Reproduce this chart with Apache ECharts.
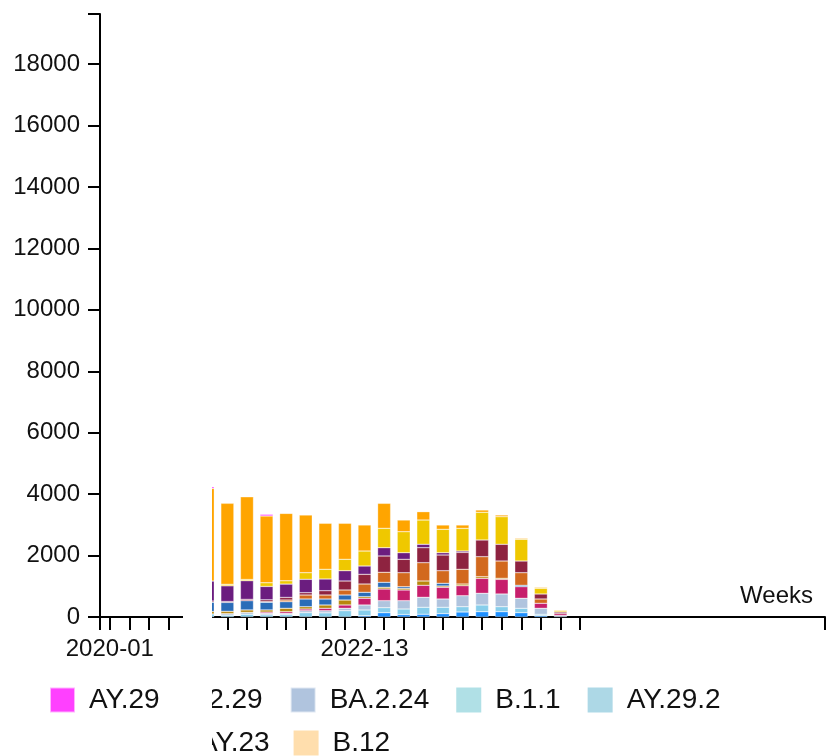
<!DOCTYPE html>
<html>
<head>
<meta charset="utf-8">
<script src="https://cdn.jsdelivr.net/npm/echarts@6/dist/echarts.min.js"></script>
<style>
  html, body { margin: 0; padding: 0; background: #fff; }
  #chart { width: 828px; height: 756px; }
</style>
</head>
<body>
<div id="chart"></div>
<script>
const weeks = [
  "2020-01", "2022-01", "2022-02", "2022-03", "2022-04", "2022-05", "2022-06", "2022-07",
  "2022-08", "2022-09", "2022-10", "2022-11", "2022-12", "2022-13", "2022-14", "2022-15",
  "2022-16", "2022-17", "2022-18", "2022-19", "2022-20", "2022-21", "2022-22", "2022-23",
  "2022-24", "2022-25", "2022-26", "2022-27", "2022-28", "2022-29", "2022-30", "2022-31",
  "2022-32", "2022-33", "2022-34", "2022-35", "2022-36"
];
const tickedWeeks = 25;
const labelWeeks = ["2020-01", "2022-13"];

// counts per week, bottom of the stack first
const ba5 =      [0,0,0,0,0, 0,0,0,0,0,0,0,0,42,140,80,90,110,163,173,173,140,43,0, 0];
const ba2101 =   [0,0,0,0,0, 100,60,90,70,75,140,135,205,186,163,180,226,206,172,218,162,143,45,0, 0];
const ba224 =    [0,0,0,0,0, 0,50,60,50,43,65,70,78,163,228,271,325,270,358,380,414,326,195,50, 0];
const ba229 =    [0,0,0,0,0, 0,0,0,40,55,55,78,108,218,380,348,391,381,326,486,476,378,163,60, 0];
const ba117 =    [0,0,0,0,0, 80,75,80,70,110,75,108,162,52,56,52,140,42,55,55,35,0,0,0, 0];
const ba112 =    [0,0,0,0,0, 300,290,300,250,215,251,195,163,143,163,55,0,88,0,0,0,45,0,0, 0];
const ba210 =    [0,0,0,0,0, 0,0,0,20,55,130,130,163,270,325,456,596,410,479,651,563,410,140,0, 0];
const ba23 =     [0,0,0,0,0, 40,30,45,60,85,75,140,293,316,531,436,488,511,550,544,544,381,163,50, 0];
const ba1 =      [0,0,0,0,0, 650,510,606,434,433,436,381,335,270,270,215,111,75,45,0,0,0,0,0, 0];
const ba2 =      [0,0,0,0,0, 0,50,40,120,108,215,316,371,488,631,684,790,762,737,901,898,707,185,40, 0];
const ba11 =     [0,0,0,0,0, 3016,2635,2690,2174,2194,1878,1497,1172,847,813,380,271,140,110,75,55,30,30,28, 0];
const ay29 =     [0,0,0,0,0, 55,0,0,55,0,0,0,0,0,0,0,0,0,0,0,0,0,0,0, 0];

const lineages = [
  ["BA.5", "#1e90ff", ba5],
  ["BA.2.10.1", "#87ceeb", ba2101],
  ["BA.2.24", "#b0c4de", ba224],
  ["BA.2.29", "#c71e6c", ba229],
  ["BA.1.17", "#b8860b", ba117],
  ["BA.1.1.2", "#2a6cb8", ba112],
  ["BA.2.10", "#d2691e", ba210],
  ["BA.2.3", "#8e2340", ba23],
  ["BA.1", "#6b1d7f", ba1],
  ["BA.2", "#efc800", ba2],
  ["BA.1.1", "#ffa500", ba11],
  ["AY.29", "#ff40ff", ay29]
];
// only seen in the legend
const legendOnly = [
  ["B.1.1", "#b0e0e6"],
  ["AY.29.2", "#add8e6"],
  ["AY.23", "#9acd32"],
  ["B.12", "#ffdead"]
];

const font = "Liberation Sans, Arial, Helvetica, sans-serif";
const ink = "#111";
const axisLine = { color: "#000", width: 2 };

const chart = echarts.init(document.getElementById("chart"));

const series = lineages.map(function (l) {
  return {
    name: l[0],
    type: "bar",
    stack: "total",
    barWidth: 13,
    itemStyle: { color: l[1], borderColor: "rgba(255,255,255,0.6)", borderWidth: 0.5 },
    data: l[2].map((v) => (v ? v : null)),
  };
}).concat(legendOnly.map(function (l) {
  return { name: l[0], type: "bar", stack: "total", itemStyle: { color: l[1] }, data: [] };
}));

// tick marks: both axis ends plus one per ticked week (week i sits at i on this scale)
const tickValues = [-0.5, weeks.length - 0.5];
for (let i = 0; i < tickedWeeks; i++) tickValues.push(i);

const legendCommon = {
  padding: 0,
  itemWidth: 25,
  itemHeight: 25,
  icon: "rect",
  selectedMode: false,
  textStyle: { fontFamily: font, fontSize: 28, color: ink, padding: [0, 0, 0, 9] },
};

const option = {
  animation: false,
  backgroundColor: "#fff",
  grid: { left: 100, right: 3, top: 14, bottom: 139, outerBoundsMode: "none" },
  xAxis: [
    {
      type: "category",
      data: weeks,
      name: "Weeks",
      nameLocation: "end",
      nameGap: -12,
      nameTextStyle: {
        fontFamily: font, fontSize: 24, color: ink,
        align: "right", verticalAlign: "bottom", padding: [0, 0, 9, 0],
      },
      axisLine: { onZero: false, lineStyle: axisLine },
      axisTick: { show: false },
      axisLabel: {
        interval: (i, v) => labelWeeks.indexOf(v) >= 0,
        fontFamily: font, fontSize: 24, color: ink, margin: 20,
      },
    },
    {
      type: "value",
      position: "bottom",
      min: -0.5,
      max: weeks.length - 0.5,
      axisLine: { show: false, onZero: false },
      axisTick: { show: true, length: 13, lineStyle: axisLine, customValues: tickValues },
      axisLabel: { show: false },
      splitLine: { show: false },
    },
  ],
  yAxis: [
    {
      type: "value",
      min: 0,
      max: 19630,
      interval: 2000,
      axisLine: { show: true, onZero: false, lineStyle: axisLine },
      axisTick: { show: true, length: 12, lineStyle: axisLine },
      axisLabel: {
        formatter: (v) => (v % 2000 === 0 ? String(v) : ""),
        fontFamily: font, fontSize: 24, color: ink, margin: 20,
      },
      splitLine: { show: false },
    },
    {
      type: "value",
      position: "left",
      min: 0, max: 1, interval: 1,
      axisLine: { show: false, onZero: false },
      axisTick: { show: true, length: 12, lineStyle: axisLine },
      axisLabel: { show: false },
      splitLine: { show: false },
    },
  ],
  legend: [
    Object.assign({ data: ["AY.29"], left: 49, top: 686, z: 20 }, legendCommon),
    Object.assign({ data: ["BA.2.29", "BA.2.24", "B.1.1", "AY.29.2"], left: 123, top: 686, itemGap: 27 }, legendCommon),
    Object.assign({ data: ["AY.23", "B.12"], left: 160, top: 729, itemGap: 24 }, legendCommon),
  ],
  // blank band seen in the reference
  graphic: [
    { type: "rect", z: 10, shape: { x: 183, y: 0, width: 29, height: 682 }, style: { fill: "#fff" } },
    { type: "rect", z: 10, shape: { x: 0, y: 682, width: 212, height: 74 }, style: { fill: "#fff" } },
  ],
  series: series,
};

chart.setOption(option);
</script>
</body>
</html>
